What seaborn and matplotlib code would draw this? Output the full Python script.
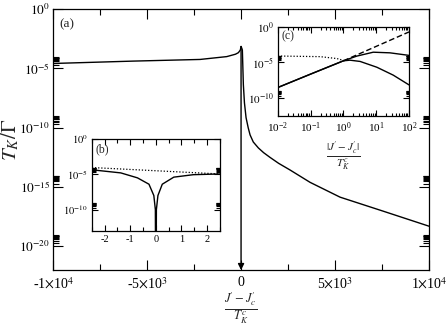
import numpy as np
import pandas as pd
import matplotlib
matplotlib.use("Agg")
import matplotlib.pyplot as plt
import matplotlib.ticker as mticker
import seaborn as sns

# ---------------- data (log10 of T_K/Gamma) ----------------
# panel (a)
a_left_x = [-10000, -5745, -2180, -760, -300, -144, -40, 0]
a_left_log10 = [-4.58, -4.38, -4.24, -4.0, -3.8, -3.67, -3.45, -3.15]
a_right_x = [0, 40, 69, 90, 122, 180, 266, 380, 479, 650, 920, 1200, 1543, 2000, 2606,
             3670, 5266, 7500, 10000]
a_right_log10 = [-3.15, -3.3, -3.45, -4.6, -6.36, -7.9, -9.15, -10.0, -10.6, -11.2, -11.7,
                 -12.1, -12.5, -13.0, -13.56, -14.6, -15.85, -17.0, -18.3]
arrow_x = 0

# panel (b)
b_solid_x = [-2.5, -1.37, -0.72, -0.27, -0.08, -0.02, 0.0, 0.02, 0.08, 0.25, 0.70, 1.47, 2.5]
b_solid_log10 = [-4.36, -4.8, -5.5, -6.4, -8.0, -10.0, -30.0, -10.0, -8.0, -6.4, -5.4, -5.05, -4.95]
b_dot_x = [-2.5, 2.5]
b_dot_log10 = [-4.04, -4.95]

# panel (c)  (x given as log10 |J'-J'c|/T_K^c)
c_lower_logx = [-2.0, -1.0, 0.0, 0.2, 0.51, 1.02, 1.52, 2.0]
c_lower_log10 = [-8.55, -6.65, -4.77, -4.68, -4.86, -5.68, -6.8, -8.18]
c_upper_logx = [-2.0, -1.0, 0.0, 0.41, 0.91, 1.42, 2.0]
c_upper_log10 = [-8.55, -6.65, -4.77, -4.1, -3.55, -3.64, -4.0]
c_dot_logx = [-2.0, -0.71, -0.2, 0.05]
c_dot_log10 = [-4.09, -4.18, -4.45, -4.77]
c_dash_logx = [0.0, 2.0]
c_dash_log10 = [-4.77, -0.68]

main_xticks = [-10000, -5000, 0, 5000, 10000]
main_xticklabels = [r"-1$\times$10$^{4}$", r"-5$\times$10$^{3}$", "0",
                    r"5$\times$10$^{3}$", r"1$\times$10$^{4}$"]
main_yexp = [0, -5, -10, -15, -20]
inset_yexp = [0, -5, -10]

# ---------------- style ----------------
sns.set_theme(style="ticks")
plt.rcParams["font.family"] = ["Liberation Serif", "DejaVu Serif"]
plt.rcParams["mathtext.fontset"] = "stix"
plt.rcParams["axes.linewidth"] = 0.9
plt.rcParams["axes.edgecolor"] = "black"
plt.rcParams["xtick.color"] = "black"
plt.rcParams["ytick.color"] = "black"


def df(x, y):
    return pd.DataFrame({"x": np.asarray(x, float), "y": np.power(10.0, np.asarray(y, float))})


def style_ticks(ax, size, major_len, minor_len):
    ax.tick_params(which="both", direction="in", top=True, right=True,
                   labelsize=size, width=0.8, pad=3)
    ax.tick_params(which="major", length=major_len)
    ax.tick_params(which="minor", length=minor_len)


def log_yticks(ax, exps):
    ax.yaxis.set_major_locator(mticker.FixedLocator([10.0 ** e for e in exps]))
    ax.yaxis.set_major_formatter(mticker.FixedFormatter([r"$10^{%d}$" % e for e in exps]))
    minors = [k * 10.0 ** e for e in exps for k in range(2, 10)]
    ax.yaxis.set_minor_locator(mticker.FixedLocator(minors))
    ax.yaxis.set_minor_formatter(mticker.NullFormatter())


fig = plt.figure(figsize=(4.46, 3.27), dpi=100)
fig.patch.set_facecolor("white")

# ---------------- main panel (a) ----------------
ax = fig.add_axes([0.119, 0.174, 0.843, 0.798])
ax.set_facecolor("white")
ax.set_yscale("log")
sns.lineplot(data=df(a_left_x, a_left_log10), x="x", y="y", ax=ax, color="black",
             lw=1.0, sort=False, estimator=None)
sns.lineplot(data=df(a_right_x, a_right_log10), x="x", y="y", ax=ax, color="black",
             lw=1.0, sort=False, estimator=None)
ax.set_xlim(-10000, 10000)
ax.set_ylim(1e-22, 1e0)
ax.annotate("", xy=(arrow_x, 1e-22), xytext=(arrow_x, 10 ** a_left_log10[-1]),
            arrowprops=dict(arrowstyle="-|>", color="black", lw=1.0, mutation_scale=9,
                            shrinkA=0, shrinkB=0))
ax.xaxis.set_major_locator(mticker.FixedLocator(main_xticks))
ax.xaxis.set_major_formatter(mticker.FixedFormatter(main_xticklabels))
ax.xaxis.set_minor_locator(mticker.MultipleLocator(2500))
log_yticks(ax, main_yexp)
style_ticks(ax, 10, 7, 4)
ax.tick_params(axis="y", labelsize=9.5, pad=2)
ax.tick_params(axis="x", which="major", pad=4)
ax.set_xlabel(r"$\frac{J^{\!\prime} - J^{\!\prime}_c}{T_K^c}$", fontsize=13)
ax.xaxis.set_label_coords(0.5, -0.148)
ax.xaxis.label.set_va("center")
ax.set_ylabel(r"$T_K/\Gamma$", fontsize=15)
ax.yaxis.set_label_coords(-0.113, 0.5)
ax.yaxis.label.set_va("center")
ax.text(0.018, 0.965, "(a)", transform=ax.transAxes, ha="left", va="top", fontsize=9.5)

# ---------------- inset (b) ----------------
axb = fig.add_axes([0.206, 0.294, 0.287, 0.281])
axb.set_facecolor("white")
axb.set_yscale("log")
sns.lineplot(data=df(b_dot_x, b_dot_log10), x="x", y="y", ax=axb, color="black",
             lw=0.9, ls=(0, (1, 1.5)), sort=False, estimator=None)
sns.lineplot(data=df(b_solid_x, b_solid_log10), x="x", y="y", ax=axb, color="black",
             lw=1.0, sort=False, estimator=None)
axb.set_xlim(-2.5, 2.5)
axb.set_ylim(1e-13, 1e0)
axb.xaxis.set_major_locator(mticker.MultipleLocator(1))
axb.xaxis.set_minor_locator(mticker.MultipleLocator(0.5))
axb.xaxis.set_major_formatter(mticker.FuncFormatter(lambda v, p: "%d" % v))
log_yticks(axb, inset_yexp)
style_ticks(axb, 7.5, 4, 3)
axb.set_xlabel("")
axb.set_ylabel("")
axb.text(0.03, 0.95, "(b)", transform=axb.transAxes, ha="left", va="top", fontsize=8.5)

# ---------------- inset (c) ----------------
axc = fig.add_axes([0.623, 0.645, 0.294, 0.272])
axc.set_facecolor("white")
axc.set_xscale("log")
axc.set_yscale("log")
c_dot = df(np.power(10.0, c_dot_logx), c_dot_log10)
c_dash = df(np.power(10.0, c_dash_logx), c_dash_log10)
c_low = df(np.power(10.0, c_lower_logx), c_lower_log10)
c_up = df(np.power(10.0, c_upper_logx), c_upper_log10)
sns.lineplot(data=c_dot, x="x", y="y", ax=axc, color="black", lw=0.9, ls=(0, (1, 1.5)),
             sort=False, estimator=None)
sns.lineplot(data=c_dash, x="x", y="y", ax=axc, color="black", lw=1.0, ls=(0, (4, 2)),
             sort=False, estimator=None)
sns.lineplot(data=c_low, x="x", y="y", ax=axc, color="black", lw=1.0, sort=False,
             estimator=None)
sns.lineplot(data=c_up, x="x", y="y", ax=axc, color="black", lw=1.0, sort=False,
             estimator=None)
axc.set_xlim(1e-2, 1e2)
axc.set_ylim(10 ** -12.6, 1e0)
axc.xaxis.set_major_locator(mticker.LogLocator(base=10, numticks=10))
axc.xaxis.set_minor_locator(mticker.LogLocator(base=10, subs=np.arange(2, 10), numticks=10))
axc.xaxis.set_minor_formatter(mticker.NullFormatter())
log_yticks(axc, inset_yexp)
style_ticks(axc, 8, 4, 2.5)
axc.tick_params(axis="x", which="major", pad=3)
axc.set_xlabel(r"$\frac{|J^{\!\prime} - J^{\!\prime}_c|}{T_K^c}$", fontsize=11.5)
axc.xaxis.set_label_coords(0.5, -0.45)
axc.xaxis.label.set_va("center")
axc.set_ylabel("")
axc.text(0.03, 0.96, "(c)", transform=axc.transAxes, ha="left", va="top", fontsize=8.5)

fig.savefig("out.png", dpi=100, facecolor="white")
